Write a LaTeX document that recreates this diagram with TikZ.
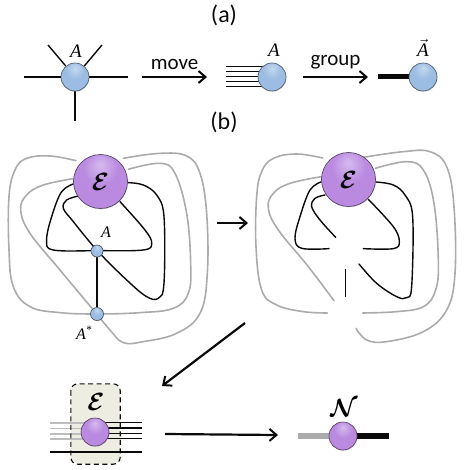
\documentclass[tikz,border=0pt]{standalone}
\usepackage{amsmath}
\usepackage{bm}
\usepackage{fontspec}
\setmainfont{Liberation Serif}
\newfontfamily\labelfont{Carlito}
\usetikzlibrary{arrows.meta,backgrounds,calc,shadows}
\definecolor{diagramText}{HTML}{0A0A0A}
\definecolor{wireGray}{HTML}{ABABAB}
\definecolor{fadedWire}{HTML}{BDBDBD}
\definecolor{boxSurface}{HTML}{EEEDE2}
\definecolor{tensorEdge}{HTML}{465260}
\definecolor{channelEdge}{HTML}{4C3A60}
\definecolor{tensorLow}{HTML}{9CBDE3}
\definecolor{tensorTop}{HTML}{C4D8EE}
\definecolor{channelLow}{HTML}{B98AE0}
\definecolor{channelTop}{HTML}{D6BBEE}
\pgfdeclareradialshading{tensorShade}{\pgfpoint{0bp}{16bp}}{
  color(0bp)=(tensorTop); color(16bp)=(tensorLow); color(54bp)=(tensorLow); color(64bp)=(tensorEdge)}
\pgfdeclareradialshading{channelShade}{\pgfpoint{0bp}{16bp}}{
  color(0bp)=(channelTop); color(16bp)=(channelLow); color(54bp)=(channelLow); color(64bp)=(channelEdge)}
\newcommand{\panellabel}[1]{{\labelfont\fontsize{24}{26}\selectfont\color{diagramText}#1}}
\newcommand{\flowlabel}[1]{{\labelfont\fontsize{21}{23}\selectfont\color{diagramText}#1}}
\newcommand{\tensorlabel}[1]{{\fontsize{19}{21}\selectfont\itshape #1}}
\newcommand{\smalllabel}[1]{{\fontsize{16}{18}\selectfont\itshape #1}}
\newcommand{\channellabel}[2]{{\fontsize{#1}{#1}\selectfont$\bm{\mathcal{#2}}$}}
\begin{document}
\begin{tikzpicture}[
  x=1pt, y=-1pt,
  >={Straight Barb[length=7pt,width=12pt,line width=2pt]},
  tensor/.style={
    circle,
    shading=tensorShade,
    draw=tensorEdge,
    line width=0.6pt,
    inner sep=0pt,
    minimum size=28pt,
    drop shadow={shadow xshift=0.4pt,shadow yshift=-0.8pt,opacity=0.35}
  },
  site/.style={tensor, minimum size=12pt},
  channel/.style={tensor, shading=channelShade, draw=channelEdge},
  flow/.style={->, draw=diagramText, line width=2.2pt},
  leg/.style={draw=diagramText, line width=1.4pt},
  fatleg/.style={draw=diagramText, line width=5pt},
  loopleg/.style={draw=diagramText, line width=1.4pt, line cap=round},
  envleg/.style={draw=wireGray, line width=1.6pt, line cap=round},
  dashbox/.style={
    fill=boxSurface,
    rounded corners=7pt,
    minimum width=49pt,
    minimum height=80pt
  }
]
\path[use as bounding box] (0,0) rectangle (463,470);

% Part (a): moving and grouping the legs.
\node (title-a) at (224,15) {\panellabel{(a)}};
\node[tensor] (ball-a) at (75,77) {};
\node[tensor] (ball-move) at (272,77) {};
\node[tensor] (ball-group) at (423,77) {};
\node (label-a) at (76,51) {\tensorlabel{A}};
\node (label-move) at (274,50) {\tensorlabel{A}};
\node (label-group) at (423,48) {\tensorlabel{$\vec{\text{\itshape A}}$}};

\coordinate (leg-west) at (24,77);
\coordinate (leg-east) at (128,77);
\coordinate (leg-south) at (75,121);
\coordinate (leg-nw) at (48,45);
\coordinate (leg-ne) at (102,45);
\coordinate (move-start) at (142,77);
\coordinate (move-end) at (207,77);
\coordinate (group-start) at (303,77);
\coordinate (group-end) at (368,77);
\coordinate (fat-end) at (378,77);

\begin{scope}[on background layer]
  \draw[leg] (leg-west) -- (leg-east);
  \draw[leg] (ball-a) -- (leg-south);
  \draw[leg] (ball-a) -- (leg-nw);
  \draw[leg] (ball-a) -- (leg-ne);
  \foreach \dy in {-10,-5,0,5,10}
    \draw[leg, line width=1pt] (ball-move.center) ++(-46,\dy) -- ++(46,0);
  \draw[fatleg] (fat-end) -- (ball-group);
\end{scope}

\draw[flow] (move-start) -- node[above=3pt] {\flowlabel{move}} (move-end);
\draw[flow] (group-start) -- node[above=3pt] {\flowlabel{group}} (group-end);

% Part (b): the closed network, then the same network with the sites removed.
\node (title-b) at (224,122) {\panellabel{(b)}};
\node[channel, minimum size=54pt] (eps-full) at (100.5,181.5) {\channellabel{27}{E}};
\node[site] (site-a) at (97,251) {};
\node[site, minimum size=13pt] (site-conj) at (97,314) {};
\node (label-site) at (106,232) {\smalllabel{A}};
\node (label-conj) at (84,333) {\smalllabel{A\textsuperscript{*}}};
\node[channel, minimum size=54pt] (eps-cut) at (348.5,179.5) {\channellabel{27}{E}};

\coordinate (cut-top) at (345.5,269);
\coordinate (cut-bottom) at (345.5,296.5);
\coordinate (across-start) at (217,223);
\coordinate (across-end) at (248,223);
\coordinate (down-start) at (245,323);
\coordinate (down-end) at (162,386);

\begin{scope}[on background layer]
  \draw[leg] (site-a) -- (site-conj);
\end{scope}
\draw[leg] (cut-top) -- (cut-bottom);
\draw[flow] (across-start) -- (across-end);
\draw[flow] (down-start) -- (down-end);

% Curves are traced on a grid three times finer than the page.
\begin{scope}[on background layer, shift={(0,130)}, x=0.3333pt, y=-0.3333pt]
  \draw[envleg] plot[smooth, tension=0.65] coordinates {(228,92) (150,78) (80,85) (45,120) (27,200) (27,360) (40,470) (90,530) (180,548) (291,552) (420,548) (520,535) (565,490) (572,400) (560,250) (525,130) (480,100) (385,118)};
  \draw[envleg] plot[smooth, tension=0.65] coordinates {(225,145) (130,165) (80,195) (62,240) (90,310) (180,420) (291,553) (330,600) (370,638) (430,635) (530,610) (600,550) (622,430) (620,250) (600,130) (560,78) (480,70) (370,85)};
  \draw[loopleg] plot[smooth, tension=0.6] coordinates {(225,160) (185,185) (155,260) (140,330) (160,360) (292,362) (430,360) (455,340) (435,300) (360,215)};
  \draw[loopleg] plot[smooth, tension=0.6] coordinates {(235,198) (200,210) (190,235) (220,275) (292,362) (380,450) (440,500) (475,505) (492,460) (492,260) (470,195) (430,165) (385,158)};
\end{scope}
\begin{scope}[on background layer, shift={(230,130)}, x=0.3333pt, y=-0.3333pt]
  \draw[envleg] plot[smooth, tension=0.65] coordinates {(278,84) (200,72) (130,85) (95,125) (80,200) (78,350) (95,480) (140,525) (220,545) (292,549)};
  \draw[envleg] plot[smooth, tension=0.65] coordinates {(398,549) (500,545) (580,530) (617,480) (625,390) (612,220) (580,120) (530,95) (436,115)};
  \draw[envleg] plot[smooth, tension=0.65] coordinates {(275,140) (180,160) (130,190) (115,235) (145,300) (235,410) (312,512)};
  \draw[envleg] plot[smooth, tension=0.65] coordinates {(378,595) (410,630) (470,635) (580,605) (650,540) (675,430) (672,230) (650,110) (600,65) (520,65) (400,82)};
  \draw[loopleg] plot[smooth, tension=0.6] coordinates {(275,155) (240,180) (210,260) (195,325) (215,355) (297,356)};
  \draw[loopleg] plot[smooth, tension=0.6] coordinates {(400,356) (490,356) (508,335) (490,290) (415,208)};
  \draw[loopleg] plot[smooth, tension=0.6] coordinates {(285,195) (255,205) (245,230) (270,270) (317,322)};
  \draw[loopleg] plot[smooth, tension=0.6] coordinates {(387,402) (440,460) (500,500) (530,503) (545,470) (548,260) (525,195) (490,165) (438,156)};
\end{scope}

% Bottom row: the boxed channel becomes a single map.
\node[dashbox] (env-box) at (95.5,424) {};
\coordinate (eps-center) at (95,432);
\coordinate (low-west) at (50,452);
\coordinate (low-east) at (142,452);

\foreach \dy in {-9,-3.5,2,7}
  \draw[envleg, draw=fadedWire, line cap=butt] (eps-center) ++(-45,\dy) -- ++(45,0);
\foreach \dy in {-9.5,-4,1.5,6.5}
  \draw[leg] (eps-center) ++(47,\dy) -- ++(-47,0);
\draw[leg, line width=1.2pt] (low-west) -- (low-east);
\draw[dash pattern=on 5pt off 3.5pt, draw=diagramText, line width=1.1pt, rounded corners=7pt] (env-box.north west) rectangle (env-box.south east);

\node[channel] (eps-small) at (eps-center) {};
\node (eps-label) at (96,402) {\channellabel{29}{E}};
\node[channel] (map-ball) at (343,436) {};
\node (map-label) at (344,408) {\channellabel{29}{N}};

\coordinate (map-start) at (165,434);
\coordinate (map-end) at (278,435);
\coordinate (gray-end) at (298,436);
\coordinate (black-end) at (389,436);

\begin{scope}[on background layer]
  \draw[fatleg, draw=wireGray, line width=5.5pt] (gray-end) -- (map-ball);
  \draw[fatleg, line width=5.5pt] (black-end) -- (map-ball);
\end{scope}
\draw[flow] (map-start) -- (map-end);

\end{tikzpicture}
\end{document}
